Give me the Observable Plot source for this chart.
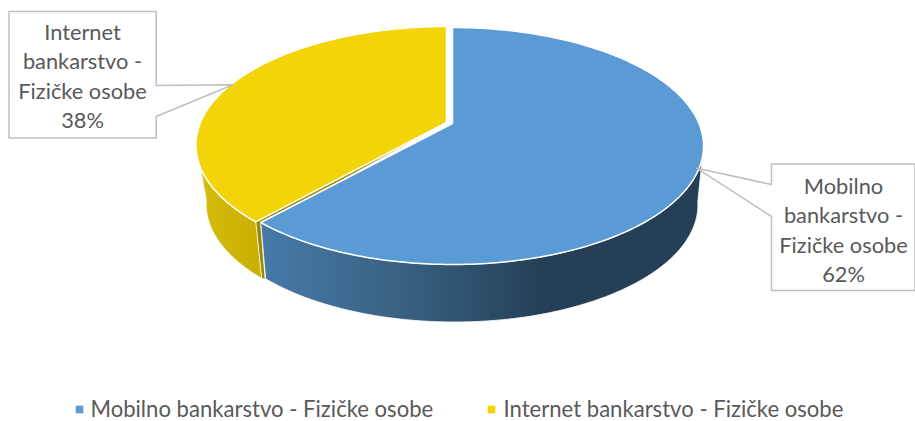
<!DOCTYPE html>
<html><head><meta charset="utf-8">
<script src="https://cdn.jsdelivr.net/npm/d3@7"></script>
<script src="https://cdn.jsdelivr.net/npm/@observablehq/plot@0.6"></script>
<style>html,body{margin:0;padding:0;background:#fff}svg{display:block}</style>
</head><body><div id="chart"></div>
<script>
// data
const categories = ["Mobilno bankarstvo - Fizičke osobe", "Internet bankarstvo - Fizičke osobe"];
const shares = [62, 38];
const calloutLines = ["Mobilno\nbankarstvo -\nFizičke osobe\n62%", "Internet\nbankarstvo -\nFizičke osobe\n38%"];
const topColors = ["#5b9bd5", "#f2d408"];

// layout: projected (perspective) discs
const W = 915, H = 421, k = -0.19;
const discs = [
  {top:{cx:452, cy:123, a:114.2, b:246.5, tw:1.9}, bottom:{cx:454, cy:182, a:113, b:239, tw:0.5}, tipTw:0},
  {top:{cx:446, cy:122, a:114.2, b:246, tw:2.2}, bottom:{cx:449, cy:181, a:113, b:239, tw:1}, tipTw:0.8}
];
const boxes = [
  {x1:771, x2:914.5, y1:163.5, y2:290, p1:184, p2:216, tx:843, ty:228},
  {x1:8.5, x2:155.7, y1:11, y2:137.5, p1:85, p2:116, tx:82, ty:74}
];
const legend = [{mx:79, tx:90}, {mx:491, tx:503}];
const legendY = 409;

const proj = (d, deg0) => {
  const deg = deg0 + d.tw * Math.sin(deg0 * Math.PI / 180);
  const t = deg * Math.PI / 180, u = Math.sin(t), v = -Math.cos(t), w = 1 + k * v;
  return {x: d.cx + d.b * u / w, y: d.cy + d.a * v / w};
};
const arcPts = (d, a0, a1) => {
  const n = Math.max(2, Math.ceil(Math.abs(a1 - a0))), out = [];
  for (let i = 0; i <= n; i++) out.push(proj(d, a0 + (a1 - a0) * i / n));
  return out;
};
const arcs = d3.pie().sort(null)(shares).map(a => ({a0: a.startAngle * 180 / Math.PI, a1: a.endAngle * 180 / Math.PI}));
const [blue, yellow] = arcs;
const silR = 99, silL = 262;

const apex = d => ({x: d.cx, y: d.cy});
const topShape = i => [apex(discs[i].top), ...arcPts(discs[i].top, arcs[i].a0, arcs[i].a1)];
const blueSide = [...arcPts(discs[0].top, silR, blue.a1), ...arcPts(discs[0].bottom, blue.a1, silR)];
const yellowSide = [...arcPts(discs[1].top, yellow.a0, silL), ...arcPts(discs[1].bottom, silL, yellow.a0)];
const yTip = proj(discs[1].top, yellow.a0), yTipB = proj(discs[1].bottom, yellow.a0);
const yellowCut = [apex(discs[1].top), {x: yTip.x + 5, y: yTip.y + 3}, {x: yTipB.x + 3.5, y: yTipB.y + 1}, yTipB, yTip];

const calloutShape = i => {
  const b = boxes[i], mid = (arcs[i].a0 + arcs[i].a1) / 2, d = discs[i].top;
  const raw = proj({...d, tw: discs[i].tipTw}, mid);
  const tip = {x: raw.x + (d.cx - raw.x) * 0.008, y: raw.y + (d.cy - raw.y) * 0.008};
  return i === 0
    ? [{x:b.x1,y:b.y1},{x:b.x2,y:b.y1},{x:b.x2,y:b.y2},{x:b.x1,y:b.y2},{x:b.x1,y:b.p2},tip,{x:b.x1,y:b.p1}]
    : [{x:b.x1,y:b.y1},{x:b.x2,y:b.y1},{x:b.x2,y:b.p1},tip,{x:b.x2,y:b.p2},{x:b.x2,y:b.y2},{x:b.x1,y:b.y2}];
};
const poly = (pts, o) => Plot.line(pts, {x:"x", y:"y", curve:"linear-closed", ...o});
const font = "Lato, 'Noto Sans', sans-serif";

const chart = Plot.plot({
  width: W, height: H, margin: 0,
  x: {domain:[0,W], range:[0,W], axis:null},
  y: {domain:[0,H], range:[0,H], axis:null},
  style: {background:"#fff", fontFamily: font},
  marks: [
    poly(yellowSide, {fill:"url(#sideYellow)", stroke:"#fff", strokeWidth:0.8}),
    poly(yellowCut, {fill:"#9c8a05", stroke:"#fff", strokeWidth:0.8}),
    poly(topShape(1), {fill:topColors[1], stroke:"#fff", strokeWidth:1.5}),
    poly(blueSide, {fill:"url(#sideBlue)", stroke:"#fff", strokeWidth:0.8}),
    poly(topShape(0), {fill:topColors[0], stroke:"#fff", strokeWidth:1.5}),
    poly(calloutShape(0), {fill:"#fff", stroke:"#bfbfbf", strokeWidth:1.5}),
    poly(calloutShape(1), {fill:"#fff", stroke:"#bfbfbf", strokeWidth:1.5}),
    Plot.text(calloutLines, {
      x:(d,i)=>boxes[i].tx, y:(d,i)=>boxes[i].ty, text:d=>d,
      fontSize:21.8, lineHeight:1.345, fill:"#595959", textAnchor:"middle", fontFamily:font
    }),
    Plot.dot(categories, {
      x:(d,i)=>legend[i].mx, y:()=>409, symbol:"square", r:4.3, fill:(d,i)=>topColors[i], stroke:null
    }),
    Plot.text(categories, {
      x:(d,i)=>legend[i].tx, y:()=>legendY, text:d=>d,
      fontSize:22.1, fill:"#595959", textAnchor:"start", fontFamily:font
    })
  ]
});
const defs = d3.select(chart).insert("defs", ":first-child");
const grad = (id, x1, x2, stops) => {
  const g = defs.append("linearGradient").attr("id", id).attr("gradientUnits","userSpaceOnUse")
    .attr("x1",x1).attr("x2",x2).attr("y1",0).attr("y2",0);
  stops.forEach(([o,c]) => g.append("stop").attr("offset",o).attr("stop-color",c));
};
grad("sideBlue", 266, 545, [[0,"#4679a8"],[0.5,"#38607f"],[1,"#243f56"]]);
grad("sideYellow", 198, 260, [[0,"#d6bd0a"],[1,"#c8af02"]]);
document.getElementById("chart").append(chart);
</script></body></html>
